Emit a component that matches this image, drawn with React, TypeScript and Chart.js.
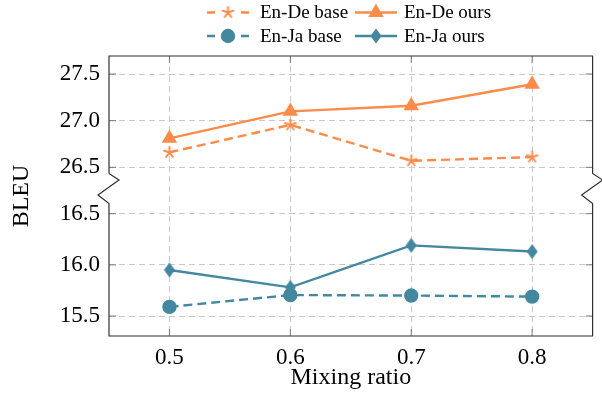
import React, { useEffect, useRef } from 'react';
import { Chart, registerables } from 'chart.js';
import { drawPoint } from 'chart.js/helpers';

Chart.register(...registerables);

// ---- data ----
const mixingRatios = [0.5, 0.6, 0.7, 0.8];
const enDeBase = [26.66, 26.955, 26.57, 26.61];
const enDeOurs = [26.81, 27.1, 27.16, 27.39];
const enJaBase = [15.59, 15.705, 15.7, 15.69];
const enJaOurs = [15.95, 15.78, 16.19, 16.13];
const xTicks = [0.5, 0.6, 0.7, 0.8];
const topTicks = [26.5, 27.0, 27.5];
const bottomTicks = [15.5, 16.0, 16.5];
const seriesLabels = ['En-De base', 'En-De ours', 'En-Ja base', 'En-Ja ours'];

const ORANGE = '#fd8b4a';
const TEAL = '#44889f';
const FONT = "'Liberation Serif', 'Times New Roman', serif";

function makeStar(color: string) {
  const c = document.createElement('canvas');
  c.width = 15;
  c.height = 15;
  const g = c.getContext('2d')!;
  g.strokeStyle = color;
  g.lineWidth = 2;
  g.lineCap = 'round';
  g.beginPath();
  for (let k = 0; k < 5; k++) {
    const a = -Math.PI / 2 + (k * 2 * Math.PI) / 5;
    g.moveTo(7.5, 7.5);
    g.lineTo(7.5 + 5.6 * Math.cos(a), 7.5 + 5.6 * Math.sin(a));
  }
  g.stroke();
  return c;
}

function makeDiamond(color: string) {
  const c = document.createElement('canvas');
  c.width = 12;
  c.height = 16;
  const g = c.getContext('2d')!;
  g.fillStyle = color;
  g.beginPath();
  g.moveTo(6, 0.5);
  g.lineTo(11.5, 8);
  g.lineTo(6, 15.5);
  g.lineTo(0.5, 8);
  g.closePath();
  g.fill();
  return c;
}

const decorPlugin = {
  id: 'decor',
  afterDraw(chart: any) {
    const { ctx, chartArea: a, scales } = chart;
    const yT = scales.yTop;
    const yB = scales.yBot;
    const xs = scales.x;
    const mid = yT.bottom;
    ctx.save();

    // inner tick marks
    ctx.strokeStyle = '#7a7a7a';
    ctx.lineWidth = 1;
    ctx.setLineDash([]);
    ctx.beginPath();
    const tl = 7;
    topTicks.forEach((v) => {
      const p = yT.getPixelForValue(v);
      ctx.moveTo(a.left, p); ctx.lineTo(a.left + tl, p);
      ctx.moveTo(a.right, p); ctx.lineTo(a.right - tl, p);
    });
    bottomTicks.forEach((v) => {
      const p = yB.getPixelForValue(v);
      ctx.moveTo(a.left, p); ctx.lineTo(a.left + tl, p);
      ctx.moveTo(a.right, p); ctx.lineTo(a.right - tl, p);
    });
    xTicks.forEach((v) => {
      const p = xs.getPixelForValue(v);
      ctx.moveTo(p, a.top); ctx.lineTo(p, a.top + tl);
      ctx.moveTo(p, a.bottom); ctx.lineTo(p, a.bottom - tl);
    });
    ctx.stroke();

    // frame with axis break
    ctx.strokeStyle = '#303030';
    ctx.lineWidth = 1.2;
    ctx.beginPath();
    ctx.moveTo(a.left, mid - 15);
    ctx.lineTo(a.left, a.top);
    ctx.lineTo(a.right, a.top);
    ctx.lineTo(a.right, mid - 15);
    ctx.lineTo(a.right + 10, mid - 8.5);
    ctx.lineTo(a.right - 11, mid + 6.5);
    ctx.lineTo(a.right, mid + 15);
    ctx.lineTo(a.right, a.bottom);
    ctx.lineTo(a.left, a.bottom);
    ctx.lineTo(a.left, mid + 15);
    ctx.lineTo(a.left - 11, mid + 6.5);
    ctx.lineTo(a.left + 10, mid - 8.5);
    ctx.lineTo(a.left, mid - 15);
    ctx.stroke();

    // axis titles
    ctx.fillStyle = '#000';
    ctx.font = `24px ${FONT}`;
    ctx.textAlign = 'center';
    ctx.textBaseline = 'alphabetic';
    ctx.fillText('Mixing ratio', (a.left + a.right) / 2, 384);
    ctx.save();
    ctx.translate(28, (a.top + a.bottom) / 2);
    ctx.rotate(-Math.PI / 2);
    ctx.fillText('BLEU', 0, 0);
    ctx.restore();

    // legend
    const cols = [
      { start: 207, text: 260 },
      { start: 355, text: 404 },
    ];
    const rows = [12.5, 36];
    const len = 42;
    chart.data.datasets.forEach((ds: any, i: number) => {
      const col = cols[i % 2];
      const y = rows[Math.floor(i / 2)];
      ctx.strokeStyle = ds.borderColor;
      ctx.lineWidth = ds.borderWidth;
      ctx.setLineDash(ds.borderDash && ds.borderDash.length ? [8, 26] : []);
      ctx.beginPath();
      ctx.moveTo(col.start, y);
      ctx.lineTo(col.start + len, y);
      ctx.stroke();
      ctx.setLineDash([]);
      ctx.fillStyle = ds.pointBackgroundColor;
      ctx.strokeStyle = ds.pointBorderColor;
      drawPoint(
        ctx,
        { pointStyle: ds.pointStyle, radius: ds.pointRadius, rotation: 0, borderWidth: 1 } as any,
        col.start + len / 2,
        y
      );
      ctx.fillStyle = '#000';
      ctx.font = `19px ${FONT}`;
      ctx.textAlign = 'left';
      ctx.textBaseline = 'alphabetic';
      ctx.fillText(ds.label, col.text, y + 5.5);
    });

    ctx.restore();
  },
};

export default function App() {
  const ref = useRef<HTMLCanvasElement>(null);

  useEffect(() => {
    const star = makeStar(ORANGE);
    const diamond = makeDiamond(TEAL);
    const pts = (vals: number[]) => mixingRatios.map((x, i) => ({ x, y: vals[i] }));
    const gridOpts = { color: '#c9c9c9', lineWidth: 1, drawTicks: false };
    const borderOpts = { display: false, dash: [6, 4] };
    const tickFont = { family: FONT, size: 23 };

    const chart = new Chart(ref.current!, {
      type: 'line',
      data: {
        datasets: [
          {
            label: seriesLabels[0],
            data: pts(enDeBase),
            yAxisID: 'yTop',
            borderColor: ORANGE,
            backgroundColor: ORANGE,
            borderWidth: 2.4,
            borderDash: [9, 5],
            pointStyle: star as any,
            pointRadius: 6,
            pointBackgroundColor: ORANGE,
            pointBorderColor: ORANGE,
          },
          {
            label: seriesLabels[1],
            data: pts(enDeOurs),
            yAxisID: 'yTop',
            borderColor: ORANGE,
            backgroundColor: ORANGE,
            borderWidth: 2.4,
            borderDash: [],
            pointStyle: 'triangle',
            pointRadius: 6.5,
            pointBackgroundColor: ORANGE,
            pointBorderColor: ORANGE,
          },
          {
            label: seriesLabels[2],
            data: pts(enJaBase),
            yAxisID: 'yBot',
            borderColor: TEAL,
            backgroundColor: TEAL,
            borderWidth: 2.4,
            borderDash: [9, 5],
            pointStyle: 'circle',
            pointRadius: 6,
            pointBackgroundColor: TEAL,
            pointBorderColor: TEAL,
          },
          {
            label: seriesLabels[3],
            data: pts(enJaOurs),
            yAxisID: 'yBot',
            borderColor: TEAL,
            backgroundColor: TEAL,
            borderWidth: 2.4,
            borderDash: [],
            pointStyle: diamond as any,
            pointRadius: 7,
            pointBackgroundColor: TEAL,
            pointBorderColor: TEAL,
          },
        ] as any,
      },
      options: {
        animation: false,
        responsive: false,
        devicePixelRatio: 1,
        layout: { padding: { top: 56, right: 8, bottom: 0, left: 0 } },
        plugins: { legend: { display: false }, tooltip: { enabled: false } },
        elements: { line: { tension: 0, fill: false } },
        scales: {
          x: {
            type: 'linear',
            position: 'bottom',
            min: 0.45,
            max: 0.85,
            bounds: 'data',
            afterBuildTicks: (s: any) => {
              s.ticks = xTicks.map((v) => ({ value: v }));
            },
            afterFit: (s: any) => {
              s.height = 67;
            },
            grid: gridOpts,
            border: borderOpts,
            ticks: {
              padding: 8,
              font: tickFont,
              color: '#000',
              maxRotation: 0,
              autoSkip: false,
              callback: (v: any) => Number(v).toFixed(1),
            },
          },
          yBot: {
            type: 'linear',
            position: 'left',
            stack: 'bleu',
            stackWeight: 147.5,
            weight: 1,
            min: 15.305,
            max: 16.746,
            bounds: 'data',
            afterBuildTicks: (s: any) => {
              s.ticks = bottomTicks.map((v) => ({ value: v }));
            },
            afterFit: (s: any) => {
              s.width = 109;
            },
            grid: gridOpts,
            border: borderOpts,
            ticks: {
              padding: 9,
              font: tickFont,
              color: '#000',
              autoSkip: false,
              callback: (v: any) => Number(v).toFixed(1),
            },
          },
          yTop: {
            type: 'linear',
            position: 'left',
            stack: 'bleu',
            stackWeight: 132.5,
            weight: 2,
            min: 26.273,
            max: 27.693,
            bounds: 'data',
            afterBuildTicks: (s: any) => {
              s.ticks = topTicks.map((v) => ({ value: v }));
            },
            afterFit: (s: any) => {
              s.width = 109;
            },
            grid: gridOpts,
            border: borderOpts,
            ticks: {
              padding: 9,
              font: tickFont,
              color: '#000',
              autoSkip: false,
              callback: (v: any) => Number(v).toFixed(1),
            },
          },
        } as any,
      },
      plugins: [decorPlugin as any],
    });
    return () => chart.destroy();
  }, []);

  return (
    <div style={{ position: 'absolute', left: 0, top: 0, width: 602, height: 403, background: '#fff' }}>
      <canvas ref={ref} width={602} height={403} style={{ display: 'block', width: 602, height: 403 }} />
    </div>
  );
}
